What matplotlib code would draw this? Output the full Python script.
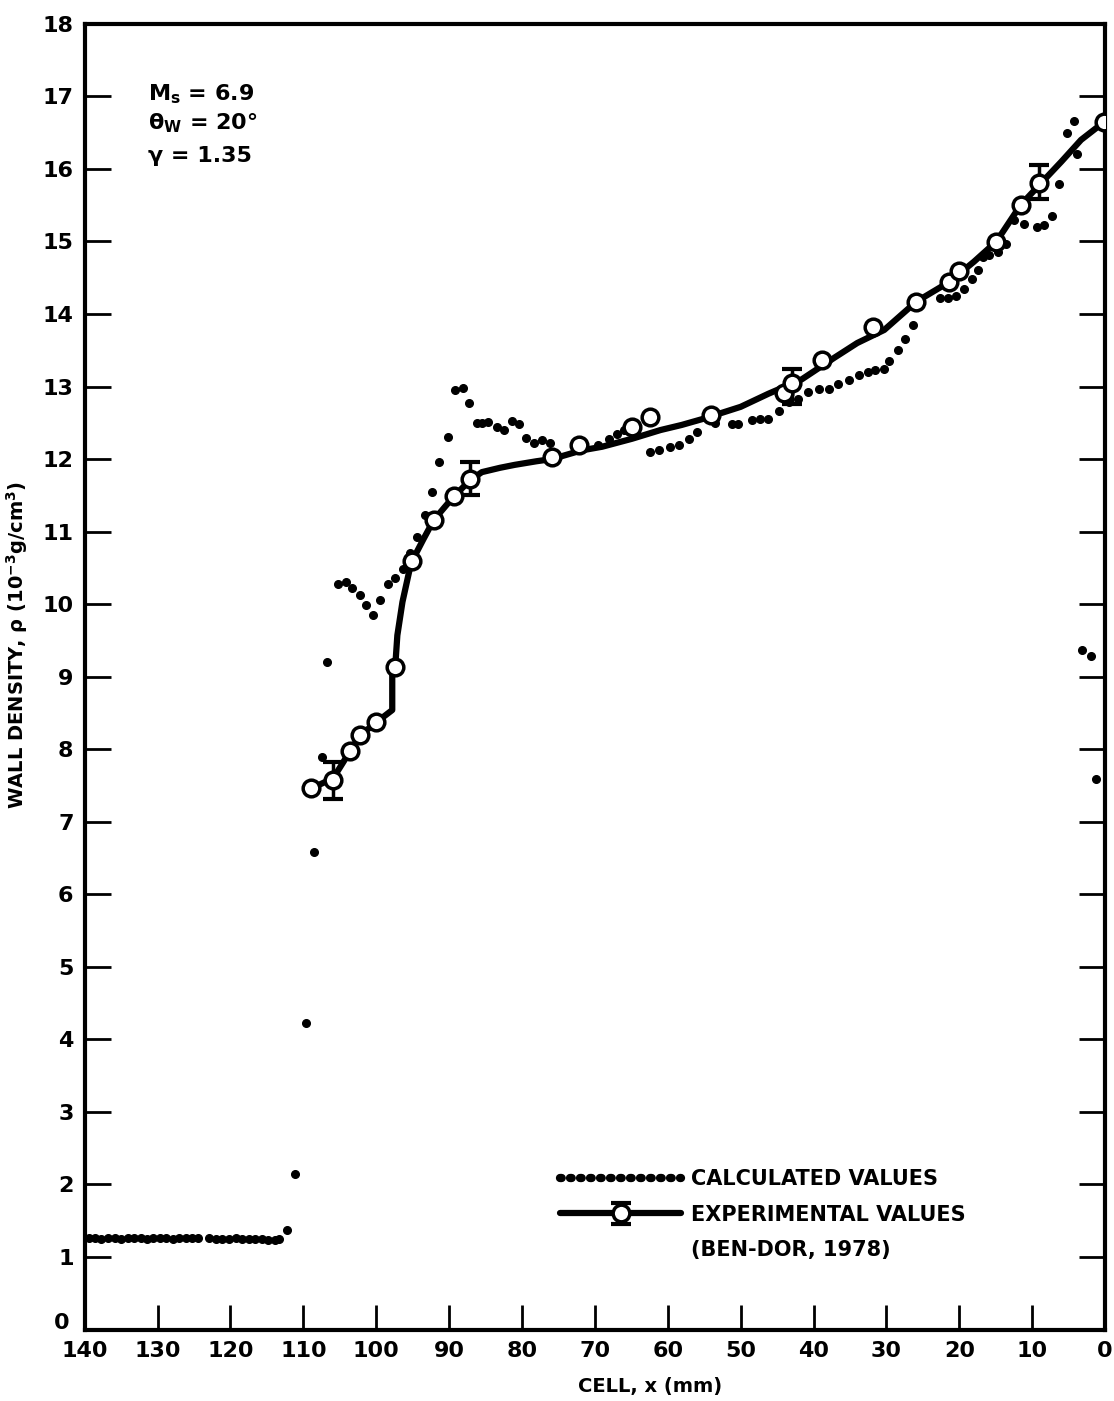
import numpy as np
import matplotlib
matplotlib.use("Agg")
import matplotlib.pyplot as plt
import matplotlib.transforms as mtransforms
from matplotlib.lines import Line2D

plt.rcParams['font.family'] = ['DejaVu Sans']
plt.rcParams['font.weight'] = 'bold'
plt.rcParams['mathtext.default'] = 'bf'

# calculated values (dots)
calc_x = [139.4, 138.6, 137.7, 136.8, 135.9, 135.0, 134.1, 133.2, 132.3, 131.4,
          130.6, 129.7, 128.8, 127.9, 127.0, 126.1, 125.3, 124.4, 122.9, 122.0,
          121.1, 120.2, 119.3, 118.4, 117.5, 116.6, 115.7, 114.8, 113.9, 113.3,
          112.2, 111.1, 109.6, 108.6, 107.5, 106.7,
          105.3, 104.2, 103.3, 102.2, 101.4, 100.4, 99.5, 98.4, 97.4, 96.3,
          95.3, 94.4, 93.3, 92.3, 91.4, 90.1, 89.2, 88.1, 87.3, 86.2,
          85.5, 84.7, 83.4, 82.5, 81.4, 80.4, 79.5, 78.4, 77.3, 76.2,
          69.6, 68.1, 67.0, 66.0,
          62.5, 61.2, 59.7, 58.4, 57.1, 56.0, 53.5, 51.2, 50.3, 48.5, 47.4, 46.2,
          44.8, 43.4, 42.1, 40.7, 39.3, 37.9, 36.6, 35.2, 33.8, 32.5, 31.6, 30.4,
          29.6, 28.4, 27.5, 26.3, 22.7, 21.5, 20.4, 19.3, 18.2, 17.4, 16.8, 15.9,
          14.7, 13.6, 12.5, 11.1, 9.3, 8.4, 7.3, 6.3, 5.2, 4.2, 3.8,
          3.2, 1.9, 1.2]
calc_y = [1.26, 1.26, 1.25, 1.26, 1.26, 1.25, 1.26, 1.26, 1.26, 1.25,
          1.26, 1.26, 1.26, 1.25, 1.26, 1.26, 1.26, 1.26, 1.26, 1.25,
          1.25, 1.25, 1.26, 1.25, 1.25, 1.25, 1.25, 1.24, 1.24, 1.25,
          1.37, 2.14, 4.23, 6.59, 7.89, 9.20,
          10.28, 10.30, 10.22, 10.12, 9.99, 9.85, 10.06, 10.28, 10.36, 10.48,
          10.70, 10.92, 11.23, 11.54, 11.96, 12.30, 12.95, 12.98, 12.77, 12.50,
          12.50, 12.51, 12.44, 12.40, 12.52, 12.48, 12.29, 12.22, 12.26, 12.22,
          12.20, 12.27, 12.35, 12.40,
          12.10, 12.12, 12.17, 12.19, 12.28, 12.37, 12.50, 12.48, 12.48, 12.54, 12.55, 12.55,
          12.66, 12.79, 12.83, 12.92, 12.97, 12.97, 13.03, 13.09, 13.16, 13.20, 13.23, 13.24,
          13.35, 13.50, 13.66, 13.85, 14.22, 14.22, 14.25, 14.34, 14.48, 14.61, 14.79, 14.81,
          14.86, 14.97, 15.30, 15.24, 15.20, 15.23, 15.35, 15.79, 16.50, 16.66, 16.21,
          9.37, 9.28, 7.59]

# experimental values (Ben-Dor, 1978)
exp_x = [108.9, 105.9, 103.6, 102.2, 100.0, 97.4, 95.1, 92.1, 89.3, 87.1,
         75.9, 72.2, 64.9, 62.5, 54.1, 44.1, 42.9, 38.9, 31.9, 25.9,
         21.4, 20.1, 14.9, 11.6, 9.0, 0.1]
exp_y = [7.46, 7.57, 7.97, 8.19, 8.37, 9.13, 10.59, 11.16, 11.49, 11.73,
         12.03, 12.20, 12.44, 12.58, 12.61, 12.91, 13.05, 13.37, 13.82, 14.17,
         14.44, 14.59, 14.99, 15.50, 15.80, 16.65]

# points carrying error bars
err_x = [105.9, 87.1, 42.9, 9.0]
err_y = [7.57, 11.73, 13.0, 15.82]
err_d = [0.25, 0.23, 0.24, 0.24]

# faired curve through experiment
curve_x = [108.9, 105.9, 103.6, 102.2, 100.0, 97.8, 97.8, 97.4, 97.1, 96.4,
           95.5, 95.1, 93.5, 92.1, 90.5, 89.3, 87.1, 85.5, 83.0, 81.0,
           78.0, 75.9, 71.8, 69.0, 64.9, 61.0, 58.1, 55.3, 50.0, 46.2,
           41.6, 37.1, 34.0, 30.3, 25.9, 21.4, 18.0, 14.9, 11.6, 9.0,
           6.0, 3.3, 0.1]
curve_y = [7.46, 7.60, 7.97, 8.19, 8.37, 8.54, 9.02, 9.13, 9.57, 10.03,
           10.44, 10.59, 10.90, 11.16, 11.35, 11.49, 11.71, 11.82, 11.88, 11.92,
           11.97, 12.00, 12.12, 12.17, 12.28, 12.40, 12.47, 12.55, 12.72, 12.90,
           13.10, 13.40, 13.60, 13.78, 14.17, 14.44, 14.72, 15.00, 15.50, 15.78,
           16.10, 16.40, 16.65]

fig = plt.figure(figsize=(11.14, 14.01), dpi=100)
ax = fig.add_axes([0.076, 0.051, 0.916, 0.932])

ax.plot(calc_x, calc_y, 'o', color='k', ms=5.5, ls='none', zorder=2)
curve, = ax.plot(curve_x, curve_y, '-', color='k', lw=4.5, zorder=3,
                 solid_capstyle='round', solid_joinstyle='round')
circles, = ax.plot(exp_x, exp_y, 'o', ms=12, mfc='white', mec='k', mew=2.5,
                   ls='none', zorder=5)
eb = ax.errorbar(err_x, err_y, yerr=err_d, fmt='none', ecolor='k',
                 elinewidth=2.5, capsize=7, capthick=3, zorder=4)

ax.set_xlim(140, 0)
ax.set_ylim(0, 18)
ax.set_xticks(np.arange(140, -1, -10))
ax.set_yticks(np.arange(0, 19, 1))
ax.tick_params(axis='x', direction='in', length=18, width=2, labelsize=16, pad=8)
ax.tick_params(axis='y', direction='in', length=19, width=2, labelsize=16, pad=8,
               right=True)
for s in ax.spines.values():
    s.set_linewidth(3)

# lift the "0" of the y axis a little, as in the original
fig.canvas.draw()
lab0 = ax.yaxis.get_ticklabels()[0]
lab0.set_transform(lab0.get_transform() +
                   mtransforms.ScaledTranslation(-3 / 72, 6 / 72, fig.dpi_scale_trans))

ax.set_xlabel('CELL, x (mm)', fontsize=14, fontweight='bold')
ax.set_ylabel('WALL DENSITY, ρ (10$^{-3}$g/cm$^{3}$)', fontsize=14, fontweight='bold')
ax.xaxis.set_label_coords(0.554, -0.036)
ax.yaxis.set_label_coords(-0.054, 0.524)

ax.text(0.062, 0.946, 'M$_s$ = 6.9', transform=ax.transAxes, fontsize=16,
        fontweight='bold', va='center')
ax.text(0.062, 0.924, 'θ$_W$ = 20°', transform=ax.transAxes, fontsize=16,
        fontweight='bold', va='center')
ax.text(0.062, 0.899, 'γ = 1.35', transform=ax.transAxes, fontsize=16,
        fontweight='bold', va='center')

calc_handle = Line2D([], [], color='k', lw=6, linestyle=(0, (0.2, 1.0)),
                     dash_capstyle='round')
blank = Line2D([], [], color='none')
ax.legend([calc_handle, (curve, eb, circles), blank],
          ['CALCULATED VALUES', 'EXPERIMENTAL VALUES', '(BEN-DOR, 1978)'],
          loc='upper left', bbox_to_anchor=(0.466, 0.123), frameon=False,
          prop={'size': 15, 'weight': 'bold'}, handlelength=5.8,
          handletextpad=0.5, labelspacing=0.75, borderpad=0, borderaxespad=0)

fig.savefig('out.png', dpi=100)
